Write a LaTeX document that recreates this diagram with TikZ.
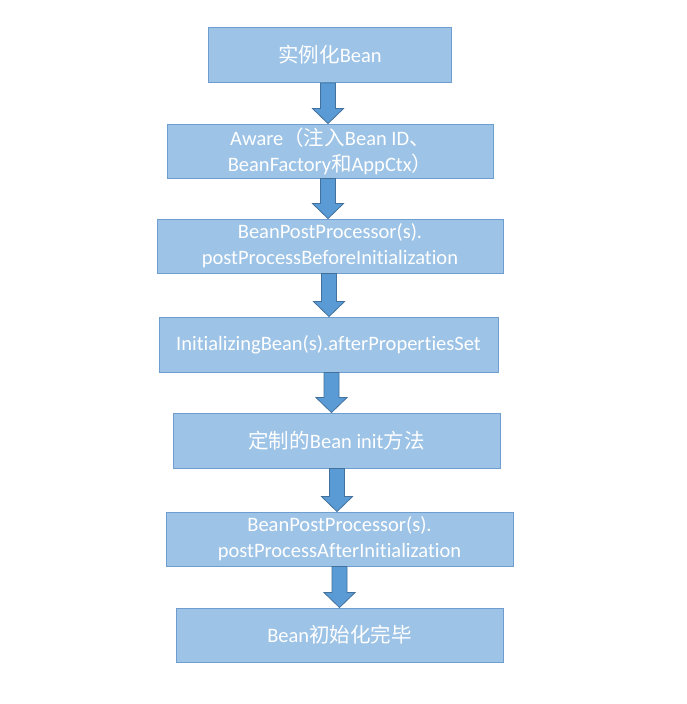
\documentclass[tikz,border=0pt]{standalone}
\usepackage{fontspec}
\setmainfont{Carlito}[Ligatures=NoCommon]
\newfontfamily\cjk{Noto Sans CJK SC}
\usetikzlibrary{calc}
\definecolor{boxfill}{HTML}{9DC3E6}
\definecolor{boxline}{HTML}{6E9ECF}
\definecolor{arrfill}{HTML}{5B9BD5}
\definecolor{arrline}{HTML}{41719C}
\tikzset{
  stage/.style={rectangle, draw=boxline, fill=boxfill, line width=0.9pt,
    text=white, font=\fontsize{20.5}{26}\selectfont, align=center, inner sep=0pt},
  fatarrow/.style={fill=arrfill, draw=arrline, line width=0.8pt, line join=miter}
}
\newcommand\bigarrow[3]{%
  \draw[fatarrow] let \p1=(#2.south), \p2=(#3.north) in
    (#1-7.5,\y1) -- (#1+7.5,\y1) -- (#1+7.5,\y2+15) -- (#1+15.5,\y2+15)
    -- (#1,\y2) -- (#1-15.5,\y2+15) -- (#1-7.5,\y2+15) -- cycle;}
\begin{document}
\begin{tikzpicture}[x=1pt,y=1pt]
\useasboundingbox[fill=white] (0,0) rectangle (687,-704);
\node[stage, minimum width=243, minimum height=55] (n1) at (330,-55) {{\cjk 实例化}Bean};
\node[stage, minimum width=326, minimum height=54] (n2) at (330,-151) {Aware{\cjk （注入}Bean ID{\cjk 、}\\BeanFactory{\cjk 和}AppCtx{\cjk ）}};
\node[stage, minimum width=346, minimum height=54] (n3) at (330,-246) {BeanPostProcessor(s).\\postProcessBeforeInitialization};
\node[stage, minimum width=339, minimum height=55] (n4) at (328.5,-344.5) {InitializingBean(s).afterPropertiesSet};
\node[stage, minimum width=327, minimum height=55] (n5) at (336.5,-440.5) {{\cjk 定制的}Bean init{\cjk 方法}};
\node[stage, minimum width=347, minimum height=54] (n6) at (339.5,-539) {BeanPostProcessor(s).\\postProcessAfterInitialization};
\node[stage, minimum width=327, minimum height=54] (n7) at (339.5,-635) {Bean{\cjk 初始化完毕}};
\bigarrow{328}{n1}{n2}
\bigarrow{328}{n2}{n3}
\bigarrow{329}{n3}{n4}
\bigarrow{331.5}{n4}{n5}
\bigarrow{337}{n5}{n6}
\bigarrow{339.5}{n6}{n7}
\end{tikzpicture}
\end{document}
